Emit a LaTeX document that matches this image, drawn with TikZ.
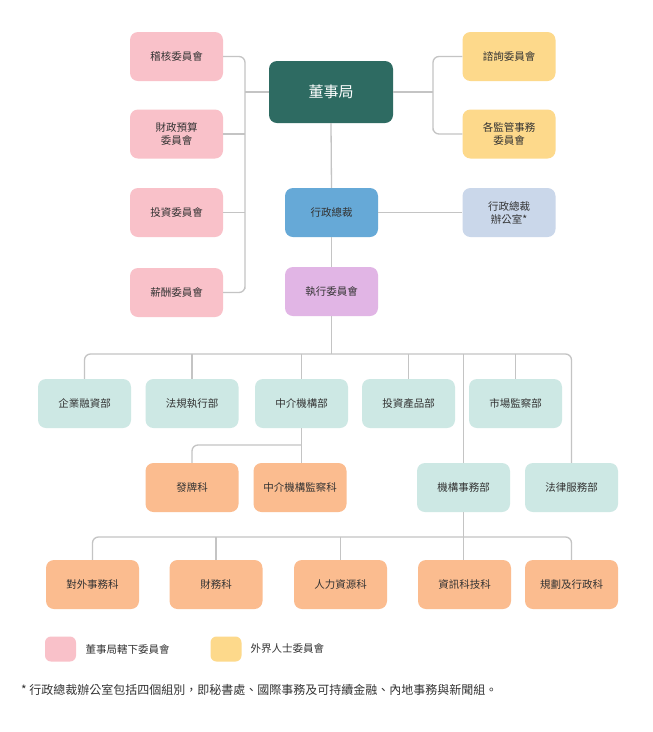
\documentclass[tikz,border=0pt]{standalone}
\usepackage{fontspec}
\setmainfont{Noto Sans CJK TC}
\usepackage{tikz}

\definecolor{pinkc}{HTML}{F9C1C9}
\definecolor{yellowc}{HTML}{FDD98B}
\definecolor{boardc}{HTML}{2E6B62}
\definecolor{ceoc}{HTML}{66A9D7}
\definecolor{officec}{HTML}{CAD7EA}
\definecolor{excoc}{HTML}{E1B5E5}
\definecolor{deptc}{HTML}{CDE8E4}
\definecolor{secc}{HTML}{FBBC8F}
\definecolor{linec}{HTML}{C4C4C4}
\definecolor{textc}{HTML}{333333}

\begin{document}
\begin{tikzpicture}[x=1pt,y=-1pt,
    box/.style={rounded corners=8pt,minimum width=93pt,minimum height=49pt,inner sep=0pt,
        align=center,font=\fontsize{10.5}{13}\selectfont,text=textc},
    conn/.style={draw=linec,line width=1.3pt,rounded corners=6pt}]
    \useasboundingbox[fill=white](0,0)rectangle(653,732);

    % board and committees
    \node[box,fill=boardc,text=white,minimum width=124pt,minimum height=62pt,font=\fontsize{15}{18}\selectfont](board)at(331,92){董事局};
    \node[box,fill=pinkc](jihe)at(176.5,56.5){稽核委員會};
    \node[box,fill=pinkc](caizheng)at(176.5,134){財政預算\\委員會};
    \node[box,fill=pinkc](touzi)at(176.5,212.5){投資委員會};
    \node[box,fill=pinkc](xinchou)at(176.5,292.5){薪酬委員會};
    \node[box,fill=yellowc](zixun)at(509,56.5){諮詢委員會};
    \node[box,fill=yellowc](jianguan)at(509,134){各監管事務\\委員會};
    \node[box,fill=ceoc](ceo)at(331.5,212.5){行政總裁};
    \node[box,fill=officec](office)at(509,212.5){行政總裁\\辦公室*};
    \node[box,fill=excoc](exco)at(331.5,291.5){執行委員會};

    \coordinate(lbar)at(245,292.5);
    \coordinate(rbar)at(433,134);
    \draw[conn](jihe.east)-|(lbar)|-(xinchou.east);
    \draw[conn](caizheng.east)--(caizheng.east-|lbar);
    \draw[conn](touzi.east)--(touzi.east-|lbar);
    \draw[conn](board.west)--(board.west-|lbar);
    \draw[conn](zixun.west)-|(rbar)|-(jianguan.west);
    \draw[conn](board.east)--(board.east-|rbar);
    \draw[conn](board.south)--(ceo.north);
    \draw[conn](ceo.south)--(exco.north);
    \draw[conn](ceo.east)--(office.west);

    % departments
    \node[box,fill=deptc](qiye)at(84.5,403.5){企業融資部};
    \node[box,fill=deptc](fagui)at(192,403.5){法規執行部};
    \node[box,fill=deptc](zhongjie)at(301.5,403.5){中介機構部};
    \node[box,fill=deptc](chanpin)at(408.5,403.5){投資產品部};
    \node[box,fill=deptc](shichang)at(515.5,403.5){市場監察部};
    \node[box,fill=secc](faipai)at(192,487.5){發牌科};
    \node[box,fill=secc](jiancha)at(300,487.5){中介機構監察科};
    \node[box,fill=deptc](jigou)at(463.5,487.5){機構事務部};
    \node[box,fill=deptc](falv)at(571.5,487.5){法律服務部};

    \coordinate(bus1)at(331.5,354);
    \draw[conn](exco.south)--(bus1);
    \draw[conn](qiye.north)|-(bus1)-|(falv.north);
    \draw[conn](fagui.north)--(fagui.north|-bus1);
    \draw[conn](zhongjie.north)--(zhongjie.north|-bus1);
    \draw[conn](chanpin.north)--(chanpin.north|-bus1);
    \draw[conn](shichang.north)--(shichang.north|-bus1);
    \draw[conn](jigou.north)--(jigou.north|-bus1);

    \coordinate(bus2)at(301.5,445);
    \draw[conn](zhongjie.south)--(zhongjie.south|-jiancha.north);
    \draw[conn](faipai.north)|-(bus2);

    % sections
    \node[box,fill=secc](duiwai)at(92.5,584.5){對外事務科};
    \node[box,fill=secc](caiwu)at(216,584.5){財務科};
    \node[box,fill=secc](renli)at(340.5,584.5){人力資源科};
    \node[box,fill=secc](zixunke)at(464.5,584.5){資訊科技科};
    \node[box,fill=secc](guihua)at(571.5,584.5){規劃及行政科};

    \coordinate(bus3)at(463.5,537);
    \draw[conn](jigou.south)--(jigou.south|-zixunke.north);
    \draw[conn](duiwai.north)|-(bus3)-|(guihua.north);
    \draw[conn](caiwu.north)--(caiwu.north|-bus3);
    \draw[conn](renli.north)--(renli.north|-bus3);

    % legend and note
    \node[box,fill=pinkc,minimum width=31pt,minimum height=25pt,rounded corners=6pt](keypink)at(60.5,649){};
    \node[anchor=west,text=textc,font=\fontsize{10.5}{13}\selectfont](keypinktext)at(82,649){董事局轄下委員會};
    \node[box,fill=yellowc,minimum width=31pt,minimum height=25pt,rounded corners=6pt](keyyellow)at(226,649){};
    \node[anchor=west,text=textc,font=\fontsize{10.5}{13}\selectfont](keyyellowtext)at(247,649){外界人士委員會};
    \node[anchor=west,text=textc,font=\fontsize{12}{14}\selectfont,inner sep=0pt](note)at(21,690){* 行政總裁辦公室包括四個組別，即秘書處、國際事務及可持續金融、內地事務與新聞組。};
\end{tikzpicture}
\end{document}
